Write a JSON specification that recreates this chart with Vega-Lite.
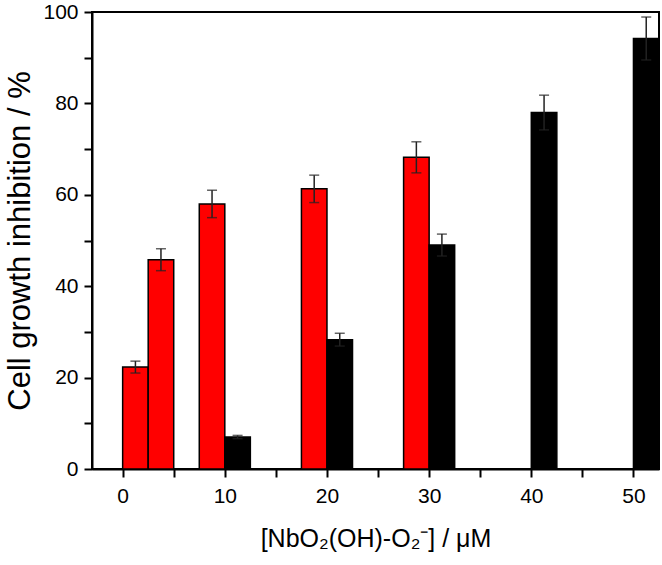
{
  "$schema": "https://vega.github.io/schema/vega-lite/v6.json",
  "autosize": "none",
  "width": 567,
  "height": 457,
  "padding": {"left": 92, "top": 12, "right": 3, "bottom": 96},
  "background": "white",
  "config": {
    "font": "Liberation Sans",
    "view": {"stroke": "black", "strokeWidth": 2},
    "axis": {
      "domainColor": "black", "domainWidth": 2, "tickColor": "black", "tickWidth": 2,
      "tickSize": 8, "grid": false, "labelFont": "Liberation Sans", "labelFontSize": 21,
      "labelColor": "black", "titleFont": "Liberation Sans",
      "titleFontWeight": "normal", "titleColor": "black"
    }
  },
  "data": {
    "values": [
      {"conc": 2.5, "series": "red", "value": 22.3, "err": 1.3},
      {"conc": 5, "series": "red", "value": 45.8, "err": 2.4},
      {"conc": 10, "series": "red", "value": 58.0, "err": 3.0},
      {"conc": 20, "series": "red", "value": 61.3, "err": 3.0},
      {"conc": 30, "series": "red", "value": 68.2, "err": 3.4},
      {"conc": 10, "series": "black", "value": 7.0, "err": 0.35},
      {"conc": 20, "series": "black", "value": 28.3, "err": 1.4},
      {"conc": 30, "series": "black", "value": 49.0, "err": 2.4},
      {"conc": 40, "series": "black", "value": 78.0, "err": 3.8},
      {"conc": 50, "series": "black", "value": 94.2, "err": 4.7}
    ]
  },
  "transform": [
    {"calculate": "datum.series == 'red' ? datum.conc - 2.5 : datum.conc", "as": "lo"},
    {"calculate": "datum.lo + 2.5", "as": "hi"},
    {"calculate": "datum.lo + 1.25", "as": "mid"},
    {"calculate": "datum.value - datum.err", "as": "elo"},
    {"calculate": "datum.value + datum.err", "as": "ehi"}
  ],
  "layer": [
    {
      "mark": {"type": "bar", "stroke": "black", "strokeWidth": 1.5, "clip": true},
      "encoding": {
        "x": {
          "field": "lo", "type": "quantitative",
          "scale": {"domain": [-3, 52.5], "nice": false, "zero": false},
          "axis": {
            "values": [0, 5, 10, 15, 20, 25, 30, 35, 40, 45, 50],
            "labelExpr": "datum.value % 10 == 0 ? datum.label : ''",
            "title": "[NbO₂(OH)-O₂⁻] / μM",
            "titleFontSize": 25,
            "labelPadding": 8, "titlePadding": 20, "labelFlush": false
          }
        },
        "x2": {"field": "hi"},
        "y": {
          "field": "value", "type": "quantitative",
          "scale": {"domain": [0, 100], "nice": false},
          "axis": {
            "values": [0, 10, 20, 30, 40, 50, 60, 70, 80, 90, 100],
            "labelExpr": "datum.value % 20 == 0 ? datum.label : ''",
            "title": "Cell growth inhibition / %",
            "titleFontSize": 31,
            "labelPadding": 6, "titlePadding": 6, "labelFlush": false
          }
        },
        "y2": {"datum": 0},
        "color": {
          "field": "series", "type": "nominal",
          "scale": {"domain": ["red", "black"], "range": ["#ff0000", "#000000"]},
          "legend": null
        }
      }
    },
    {
      "mark": {"type": "rule", "color": "#222222", "strokeWidth": 1.5, "clip": true},
      "encoding": {
        "x": {"field": "mid", "type": "quantitative"},
        "y": {"field": "elo", "type": "quantitative"},
        "y2": {"field": "ehi"}
      }
    },
    {
      "mark": {"type": "tick", "orient": "horizontal", "color": "#222222", "size": 10, "thickness": 1.5, "clip": true},
      "encoding": {
        "x": {"field": "mid", "type": "quantitative"},
        "y": {"field": "ehi", "type": "quantitative"}
      }
    },
    {
      "mark": {"type": "tick", "orient": "horizontal", "color": "#222222", "size": 10, "thickness": 1.5, "clip": true},
      "encoding": {
        "x": {"field": "mid", "type": "quantitative"},
        "y": {"field": "elo", "type": "quantitative"}
      }
    }
  ]
}
